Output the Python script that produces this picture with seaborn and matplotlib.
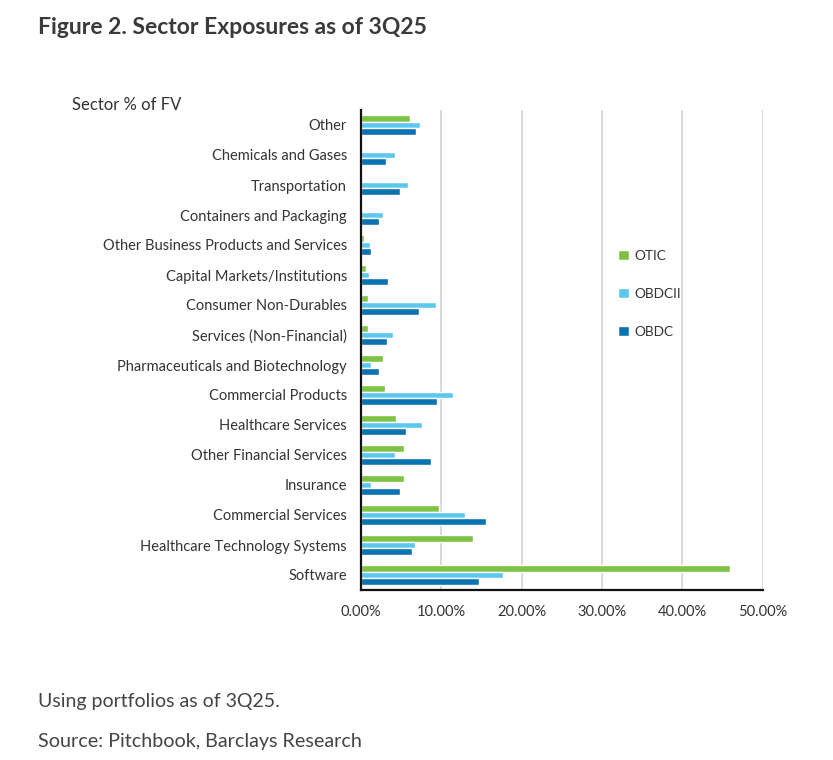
import numpy as np
import pandas as pd
import seaborn as sns
import matplotlib
matplotlib.use("Agg")
import matplotlib.pyplot as plt
from matplotlib.ticker import FuncFormatter, FixedLocator

sectors = [
    "Other", "Chemicals and Gases", "Transportation", "Containers and Packaging",
    "Other Business Products and Services", "Capital Markets/Institutions",
    "Consumer Non-Durables", "Services (Non-Financial)",
    "Pharmaceuticals and Biotechnology", "Commercial Products",
    "Healthcare Services", "Other Financial Services", "Insurance",
    "Commercial Services", "Healthcare Technology Systems", "Software",
]
otic = [6.1, 0.0, 0.0, 0.0, 0.4, 0.66, 0.9, 0.9, 2.7, 3.0, 4.3, 5.3, 5.4, 9.7, 13.9, 45.9]
obdcii = [7.4, 4.2, 5.9, 2.8, 1.1, 1.0, 9.3, 4.0, 1.25, 11.5, 7.6, 4.2, 1.3, 13.0, 6.7, 17.7]
obdc = [6.9, 3.1, 4.8, 2.2, 1.25, 3.4, 7.2, 3.2, 2.2, 9.4, 5.65, 8.7, 4.8, 15.6, 6.4, 14.7]
series_names = ["OTIC", "OBDCII", "OBDC"]
colors = ["#7dc242", "#5bc8f0", "#0a73b0"]

df = pd.DataFrame({
    "Sector": sectors * 3,
    "Fund": [series_names[0]] * 16 + [series_names[1]] * 16 + [series_names[2]] * 16,
    "Value": otic + obdcii + obdc,
})

sns.set_style("white")
plt.rcParams["font.family"] = ["Lato", "DejaVu Sans"]
text_color = "#333333"

fig = plt.figure(figsize=(8.33, 7.60), dpi=100)
ax = fig.add_axes([361 / 833, 1 - 590 / 760, (762.7 - 361) / 833, (590 - 110) / 760])

sns.barplot(data=df, y="Sector", x="Value", hue="Fund", order=sectors,
            hue_order=series_names, palette=colors, orient="h", width=0.64,
            ax=ax, saturation=1, legend=True)

ax.set_xlim(0, 50)
ax.set_xticks([0, 10, 20, 30, 40, 50])
ax.xaxis.set_major_formatter(FuncFormatter(lambda v, p: f"{v:.2f}%"))
ax.set_ylim(len(sectors) - 0.5, -0.5)
ax.grid(axis="x", color="#d9d9d9", linewidth=1.4)
ax.set_axisbelow(True)
for s in ["top", "right"]:
    ax.spines[s].set_visible(False)
for s in ["left", "bottom"]:
    ax.spines[s].set_color("#111111")
    ax.spines[s].set_linewidth(1.6)
ax.set_xlabel("")
ax.set_ylabel("")
ax.tick_params(axis="x", length=0, labelsize=10.5, labelcolor=text_color, pad=11)
ax.tick_params(axis="y", which="major", length=0, labelsize=10.5, labelcolor=text_color, pad=10)
ax.yaxis.set_minor_locator(FixedLocator(np.arange(-0.5, len(sectors), 1.0)))
ax.tick_params(axis="y", which="minor", length=5, width=1.4, color="#111111", direction="out")

handles, labels = ax.get_legend_handles_labels()
ax.legend(handles, labels, loc="center left", bbox_to_anchor=(0.61, 0.617),
          frameon=False, labelspacing=1.9, handlelength=0.8, handleheight=0.8,
          handletextpad=0.4, fontsize=9.8, labelcolor=text_color)

fig.text(38 / 833, 1 - 28 / 760, "Figure 2. Sector Exposures as of 3Q25", fontsize=16.5,
         fontweight="bold", color="#3a3a3a", va="center", ha="left")
fig.text(72 / 833, 1 - 105 / 760, "Sector % of FV", fontsize=12, color=text_color,
         va="center", ha="left")
fig.text(38 / 833, 1 - 702 / 760, "Using portfolios as of 3Q25.", fontsize=14,
         color="#444444", va="center", ha="left")
fig.text(38 / 833, 1 - 741 / 760, "Source: Pitchbook, Barclays Research", fontsize=14.2,
         color="#444444", va="center", ha="left")

fig.savefig("out.png", dpi=100, facecolor="white")
